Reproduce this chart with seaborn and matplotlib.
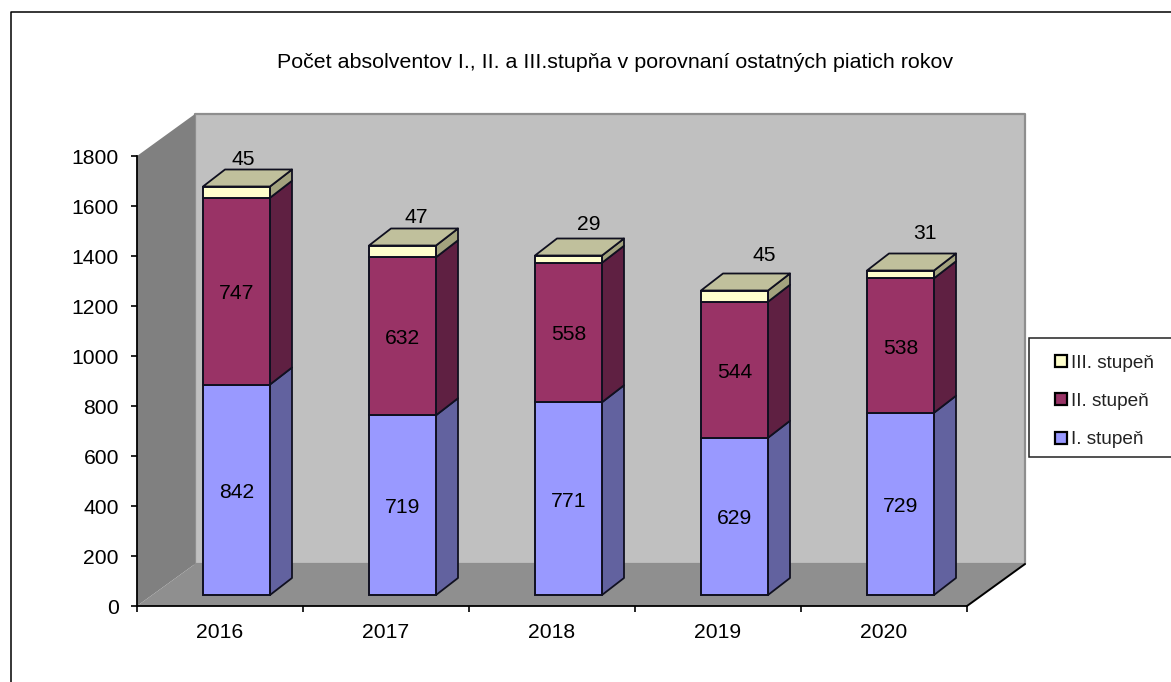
import numpy as np
import pandas as pd
import matplotlib
matplotlib.use("Agg")
import matplotlib.pyplot as plt
import seaborn as sns
from matplotlib.lines import Line2D
from matplotlib.patches import Polygon, Rectangle
from matplotlib.transforms import Affine2D, IdentityTransform

years = ["2016", "2017", "2018", "2019", "2020"]
stupen_1 = [842, 719, 771, 629, 729]
stupen_2 = [747, 632, 558, 544, 538]
stupen_3 = [45, 47, 29, 45, 31]
series_names = ["I. stupeň", "II. stupeň", "III. stupeň"]
yticks = list(range(0, 1801, 200))
title = "Počet absolventov I., II. a III.stupňa v porovnaní ostatných piatich rokov"

# styles
front = ["#9999FF", "#993366", "#FFFFCC"]
side = ["#62629F", "#5F2042", "#A3A37E"]
top_col = "#C0C09C"
label_nudge = [(7, 27), (14, 28), (20, 31), (30, 35), (24, 37)]  # px offset of top labels

sns.set_theme(style="white")
plt.rcParams["font.family"] = ["Liberation Sans", "DejaVu Sans"]
W, H = 1171, 682
FS = 15.2
fig = plt.figure(figsize=(W / 100, H / 100), dpi=100)
ax = fig.add_axes([137 / W, (H - 606) / H, 830 / W, 450 / H])
ax.patch.set_visible(False)

df = pd.DataFrame({"year": years, "s1": stupen_1, "s2": stupen_2, "s3": stupen_3})
series = [df["s1"].to_numpy(), df["s2"].to_numpy(), df["s3"].to_numpy()]
bottoms = [np.zeros(5), series[0], series[0] + series[1]]

for s, b, c in zip(series, bottoms, front):
    sns.barplot(x=df["year"], y=s, bottom=b, color=c, saturation=1, width=67 / 166,
                edgecolor="#101020", linewidth=1.4, ax=ax, zorder=3, clip_on=False, errorbar=None)

ax.set_xlim(-0.5, 4.5)
ax.set_ylim(0, 1800)
ax.set_xlabel("")
ax.set_ylabel("")

# ---- 3-D walls, derived from the axes scales
D = ax.transData
def P(x, y, dx=0, dy=0):
    return tuple(D.transform((x, y)) + np.array([dx, dy]))

WD, HD = 58, 42  # full depth
I = IdentityTransform()
def poly(pts, fc, ec="none", lw=0, z=1):
    ax.add_patch(Polygon(pts, closed=True, facecolor=fc, edgecolor=ec, linewidth=lw,
                         transform=I, zorder=z, clip_on=False, joinstyle="round"))

poly([P(-.5, 0, WD, HD), P(4.5, 0, WD, HD), P(4.5, 1800, WD, HD), P(-.5, 1800, WD, HD)],
     "#C0C0C0", "#8E8E8E", 1.6, 1)
poly([P(-.5, 0), P(-.5, 1800), P(-.5, 1800, WD, HD), P(-.5, 0, WD, HD)], "#808080", z=1.1)
poly([P(-.5, 0), P(4.5, 0), P(4.5, 0, WD, HD), P(-.5, 0, WD, HD)], "#8F8F8F", z=1.2)
ax.add_line(Line2D(*zip(P(4.5, 0), P(4.5, 0, WD, HD)), transform=I, color="black", lw=1.4,
                   zorder=1.5, clip_on=False))

# ---- bar sides, tops and labels
OX, OY = 16.5, 11     # bar front inside the floor
BX, BY = 22, 17       # bar depth
shift = D + Affine2D().translate(OX, OY)
edge = "#101020"
rects = [p for p in ax.patches if isinstance(p, Rectangle)]
rects = [r for r in rects if r.get_width() < 1][:15]
for k, r in enumerate(rects):
    r.set_transform(shift)
    x0, x1 = r.get_x(), r.get_x() + r.get_width()
    y0, y1 = r.get_y(), r.get_y() + r.get_height()
    s = k // 5
    poly([P(x1, y0, OX, OY), P(x1, y1, OX, OY), P(x1, y1, OX + BX, OY + BY), P(x1, y0, OX + BX, OY + BY)],
         side[s], edge, 1.3, 2.5)
    if s == 2:
        poly([P(x0, y1, OX, OY), P(x1, y1, OX, OY), P(x1, y1, OX + BX, OY + BY), P(x0, y1, OX + BX, OY + BY)],
             top_col, edge, 1.3, 2.6)
    cx = (x0 + x1) / 2
    val = int(round(y1 - y0))
    if s < 2:
        ax.text(cx, (y0 + y1) / 2, str(val), transform=shift + Affine2D().translate(0, -2.5),
                ha="center", va="center", fontsize=FS, color="black", zorder=5)
    else:
        nx, ny = label_nudge[k - 10]
        ax.text(cx, y1, str(val), transform=shift + Affine2D().translate(nx, ny),
                ha="center", va="center", fontsize=FS, color="black", zorder=5)

# ---- axes
for sp in ("top", "right"):
    ax.spines[sp].set_visible(False)
for sp in ("left", "bottom"):
    ax.spines[sp].set_color("black")
    ax.spines[sp].set_linewidth(1.3)
    ax.spines[sp].set_zorder(2)
ax.set_yticks(yticks)
ax.set_xticks(np.arange(-0.5, 5, 1))
ax.set_xticklabels([])
ax.set_xticks(range(5), years, minor=True)
ax.tick_params(axis="y", which="major", left=True, length=4, width=1.2, color="black",
               labelsize=FS, labelcolor="black", pad=9)
ax.tick_params(axis="x", which="major", bottom=True, length=4, width=1.2, color="black")
ax.tick_params(axis="x", which="minor", bottom=False, length=0, labelsize=FS, labelcolor="black", pad=12)
for lab in ax.get_yticklabels():
    lab.set_transform(lab.get_transform() + Affine2D().translate(0, -1))

fig.text(615 / W, 1 - 62 / H, title, ha="center", va="center", fontsize=15.4, color="black")

# ---- legend: frame drawn separately so the rows sit low in it as in the original
fig.add_artist(Rectangle((1029 / W, 1 - 457 / H), 150 / W, 119 / H, transform=fig.transFigure,
                         facecolor="white", edgecolor="#222222", linewidth=1.1))
handles = [Line2D([], [], linestyle="none", marker="s", markersize=8.2, markerfacecolor=c,
                  markeredgecolor="black", markeredgewidth=1.6) for c in front[::-1]]
leg = fig.legend(handles, series_names[::-1], loc="upper left",
                 bbox_to_anchor=(1029 / W, 1 - 462 / H, 145 / W, 119 / H), bbox_transform=fig.transFigure,
                 mode="expand", fontsize=13.7, frameon=False, borderpad=0.6, labelspacing=1.1,
                 handlelength=2.2, handletextpad=-0.58, borderaxespad=0, labelcolor="#222222")
leg.set_zorder(5)

# ---- page border
fig.add_artist(Line2D([11 / W, 11 / W, 1], [0, 1 - 12 / H, 1 - 12 / H], transform=fig.transFigure,
                      color="black", lw=1.1))

fig.savefig("out.png", dpi=100, facecolor="white")
